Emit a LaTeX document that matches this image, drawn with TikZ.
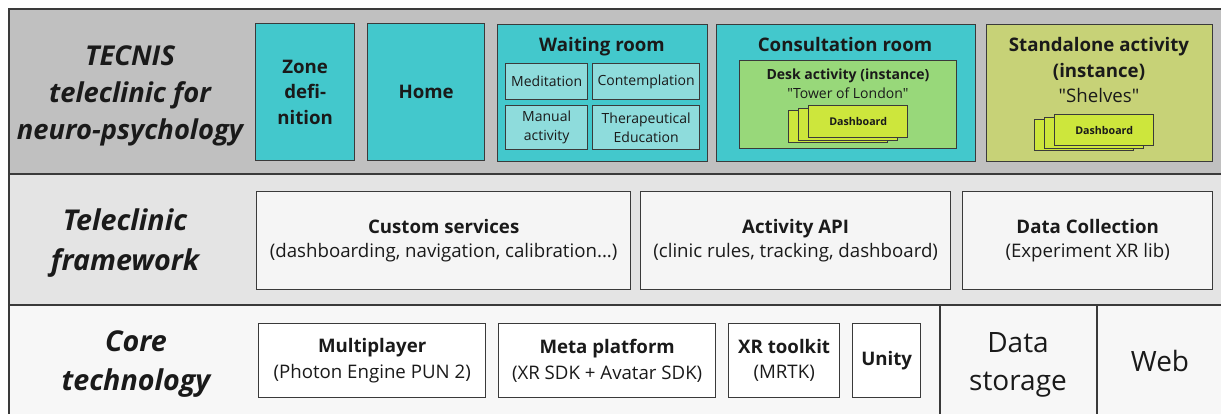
\documentclass[tikz,border=0pt]{standalone}
\usepackage{fontspec}
\setmainfont{Open Sans}
\usetikzlibrary{positioning}

\definecolor{bandtop}{HTML}{C0C0C0}
\definecolor{bandmid}{HTML}{E4E4E4}
\definecolor{bandbot}{HTML}{F7F7F7}
\definecolor{teal}{HTML}{43C8CC}
\definecolor{lightteal}{HTML}{8EDCDC}
\definecolor{deskgreen}{HTML}{98D87A}
\definecolor{dashgreen}{HTML}{CDE63C}
\definecolor{olive}{HTML}{C7D277}
\definecolor{cardfill}{HTML}{F5F5F5}
\definecolor{linegray}{HTML}{3A3A3A}
\definecolor{inkgray}{HTML}{1A1A1A}

\tikzset{
    layer/.style={draw=linegray, line width=1.4pt},
    box/.style={draw=linegray, line width=1pt, anchor=north west, inner sep=0pt, align=center, text=inkgray},
    room/.style={box, fill=teal},
    subroom/.style={box, fill=lightteal, font=\fontsize{10.5}{14}\selectfont},
    card/.style={box, fill=cardfill},
    dashcard/.style={box, fill=dashgreen, minimum width=99*0.75pt, font=\fontsize{8}{10}\selectfont\bfseries},
    layertitle/.style={align=center, text=inkgray, font=\fontsize{21.5}{29.5}\selectfont\bfseries\itshape},
    roomtitle/.style={align=center, text=inkgray, font=\fontsize{14}{19.5}\selectfont\bfseries},
    plain/.style={align=center, text=inkgray, inner sep=0pt},
}
\newcommand{\qq}[1]{\textquotedbl#1\textquotedbl}

\begin{document}
\begin{tikzpicture}[x=0.75pt, y=-0.75pt]
    \useasboundingbox (0,0) rectangle (1221,414);

    % layers
    \draw[layer, fill=bandtop] (9,9) rectangle (1235,174);
    \draw[layer, fill=bandmid] (9,174) rectangle (1235,305);
    \draw[layer, fill=bandbot] (9,305) rectangle (1235,425);
    \coordinate (storage-top) at (940,305);
    \coordinate (storage-bot) at (940,425);
    \coordinate (web-top) at (1097,305);
    \coordinate (web-bot) at (1097,425);
    \draw[layer, line width=1pt] (storage-top) -- (storage-bot);
    \draw[layer, line width=1pt] (web-top) -- (web-bot);

    \node[layertitle, font=\fontsize{20.5}{27.5}\selectfont\bfseries\itshape] (tecnis) at (130,96) {TECNIS\\teleclinic for\\neuro-psychology};
    \node[layertitle] (framework) at (125,243) {Teleclinic\\framework};
    \node[layertitle] (core)      at (136,364) {Core\\technology};

    % teleclinic rooms
    \node[room, minimum width=99*0.75pt, minimum height=137*0.75pt, font=\fontsize{14}{19}\selectfont\bfseries]
        (zone) at (255,23) {Zone\\defi-\\nition};
    \node[room, minimum width=117*0.75pt, minimum height=137*0.75pt, font=\fontsize{14}{19}\selectfont\bfseries]
        (home) at (367,23) {Home};

    \node[room, minimum width=210*0.75pt, minimum height=137*0.75pt] (waiting) at (497,24) {};
    \node[roomtitle, anchor=base] (waiting-title) at (602,51) {Waiting room};
    \node[subroom, minimum width=82*0.75pt, minimum height=36*0.75pt]  (meditation)    at (505,63)  {Meditation};
    \node[subroom, minimum width=107*0.75pt, minimum height=36*0.75pt] (contemplation) at (592,63)  {Contemplation};
    \node[subroom, minimum width=82*0.75pt, minimum height=44*0.75pt]  (manual)        at (505,105) {Manual\\activity};
    \node[subroom, minimum width=107*0.75pt, minimum height=44*0.75pt] (education)     at (592,105) {Therapeutical\\Education};

    \node[room, minimum width=259*0.75pt, minimum height=137*0.75pt] (consultation) at (716,24) {};
    \node[roomtitle, anchor=base] (consultation-title) at (845,51) {Consultation room};
    \node[box, fill=deskgreen, minimum width=217*0.75pt, minimum height=88*0.75pt] (desk) at (739,60) {};
    \node[plain, anchor=base, font=\fontsize{10.5}{13}\selectfont\bfseries] (desk-title) at (848,79.5) {Desk activity (instance)};
    \node[plain, anchor=base, font=\fontsize{10.5}{13}\selectfont] (desk-name) at (848,98.5) {\qq{Tower of London}};
    \node[dashcard, minimum height=32*0.75pt] (desk-dash-1) at (788,110) {};
    \node[dashcard, minimum height=32*0.75pt] (desk-dash-2) at (798,107.5) {};
    \node[dashcard, minimum height=32*0.75pt] (desk-dash-3) at (808,105) {Dashboard};

    \node[box, fill=olive, minimum width=226*0.75pt, minimum height=137*0.75pt] (standalone) at (986,24) {};
    \node[roomtitle] (standalone-title) at (1099,59) {Standalone activity\\(instance)};
    \node[plain, anchor=base, font=\fontsize{14}{19}\selectfont] (standalone-name) at (1099,102) {\qq{Shelves}};
    \node[dashcard, minimum height=31*0.75pt] (shelf-dash-1) at (1034,119) {};
    \node[dashcard, minimum height=31*0.75pt] (shelf-dash-2) at (1044,116.5) {};
    \node[dashcard, minimum height=31*0.75pt] (shelf-dash-3) at (1054,114) {Dashboard};

    % framework
    \node[card, minimum width=374*0.75pt, minimum height=98*0.75pt, font=\fontsize{14}{17.5}\selectfont]
        (services) at (256,191) {\textbf{Custom services}\\(dashboarding, navigation, calibration...)};
    \node[card, minimum width=310*0.75pt, minimum height=98*0.75pt, font=\fontsize{14}{17.5}\selectfont]
        (api) at (640,191) {\textbf{Activity API}\\(clinic rules, tracking, dashboard)};
    \node[card, minimum width=250*0.75pt, minimum height=98*0.75pt, font=\fontsize{14}{17.5}\selectfont]
        (collection) at (962,191) {\textbf{Data Collection}\\(Experiment XR lib)};

    % core technology
    \node[card, fill=white, minimum width=227*0.75pt, minimum height=74*0.75pt, font=\fontsize{14}{19}\selectfont]
        (multiplayer) at (258,323) {\textbf{Multiplayer}\\(Photon Engine PUN 2)};
    \node[card, fill=white, minimum width=217*0.75pt, minimum height=74*0.75pt, font=\fontsize{14}{19}\selectfont]
        (meta) at (498,323) {\textbf{Meta platform}\\(XR SDK + Avatar SDK)};
    \node[card, fill=white, minimum width=111*0.75pt, minimum height=74*0.75pt, font=\fontsize{14}{19}\selectfont]
        (toolkit) at (728,323) {\textbf{XR toolkit}\\(MRTK)};
    \node[card, fill=white, minimum width=68*0.75pt, minimum height=74*0.75pt, font=\fontsize{14}{19}\selectfont\bfseries]
        (unity) at (852,323) {Unity};
    \node[plain, font=\fontsize{21}{28.5}\selectfont] (storage) at (1018,365) {Data\\storage};
    \node[plain, font=\fontsize{21}{28.5}\selectfont] (web) at (1160,361) {Web};
\end{tikzpicture}
\end{document}
